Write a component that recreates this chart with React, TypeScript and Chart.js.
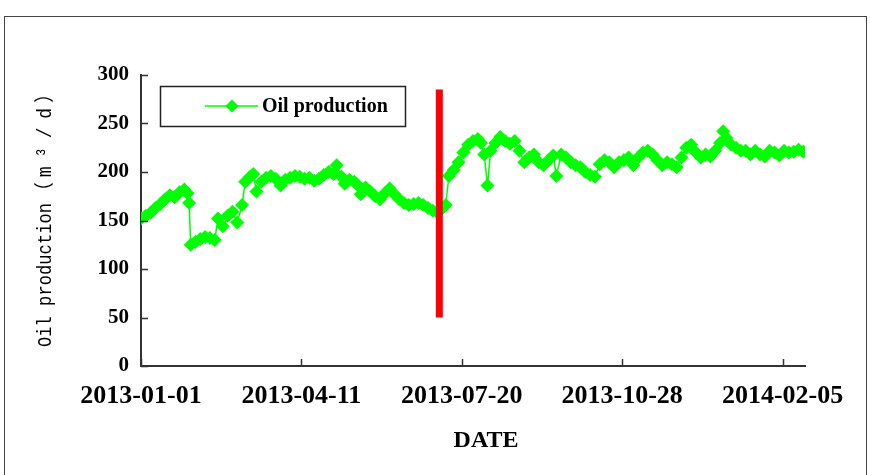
import React, { useEffect, useRef } from "react";
import { Chart, registerables } from "chart.js";

Chart.register(...registerables);

// ---- data ----
const startDate = Date.UTC(2013, 0, 1);
const xTickDays = [0, 100, 200, 300, 400];
const yTickValues = [0, 50, 100, 150, 200, 250, 300];

// day offsets from 2013-01-01
const dayOffsets = [
  0, 3, 6, 9, 12, 15, 18, 21, 24, 27, 29, 30, 31, 34, 37, 40, 43, 46, 48, 51,
  54, 57, 60, 63, 65, 68, 70, 72, 75, 78, 81, 84, 87, 90, 93, 96, 99, 102, 105, 108,
  111, 114, 117, 120, 122, 125, 127, 130, 133, 136, 137, 140, 143, 146, 149, 152, 155, 158, 161, 164,
  167, 170, 173, 176, 179, 182, 185, 188, 190, 192, 195, 198, 201, 204, 207, 210, 212, 214, 216, 218,
  221, 224, 227, 230, 233, 236, 239, 242, 245, 248, 251, 254, 257, 259, 262, 265, 268, 271, 274, 277,
  280, 283, 286, 289, 292, 295, 298, 301, 304, 307, 310, 313, 316, 319, 322, 325, 328, 331, 334, 337,
  340, 343, 346, 349, 352, 355, 358, 361, 363, 365, 368, 371, 374, 377, 380, 383, 386, 389, 392, 395,
  398, 401, 404, 407, 410, 413,
];

const oilProduction = [
  152, 155, 158, 163, 167, 172, 176, 174, 179, 182, 178, 168, 125, 128, 131, 133, 132, 130, 152, 144,
  155, 159, 148, 166, 190, 195, 198, 180, 190, 194, 196, 193, 186, 192, 194, 196, 195, 193, 194, 191,
  193, 197, 200, 198, 207, 195, 188, 192, 190, 185, 177, 184, 180, 175, 172, 178, 183, 177, 172, 168,
  166, 167, 168, 166, 163, 160, 158, 163, 166, 196, 202, 210, 220, 228, 232, 234, 230, 218, 186, 222,
  230, 236, 232, 229, 232, 222, 210, 215, 218, 210, 207, 212, 217, 196, 218, 215, 210, 207, 205, 200,
  197, 195, 208, 212, 210, 205, 210, 212, 215, 207, 215, 220, 222, 218, 212, 207, 210, 208, 205, 215,
  225, 228, 220, 215, 218, 216, 222, 230, 242, 235, 228, 225, 222, 222, 218, 222, 218, 216, 222, 220,
  217, 222, 220, 221, 223, 221,
];

// red vertical marker line
const markerDays = [186, 186];
const markerValues = [50, 285];

const seriesLabel = "Oil production";
const xTitle = "DATE";
const yTitleMain = "Oil production";
const yTitleUnit = ["\uFF08", "m", "\u00B3", "/", "d", "\uFF09"];

function dayLabel(d: number): string {
  const dt = new Date(startDate + d * 86400000);
  return dt.toISOString().slice(0, 10);
}

const GREEN = "#00ff00";
const SERIF = "'Liberation Serif', 'Times New Roman', serif";
const MONO = "'Liberation Mono', 'DejaVu Sans Mono', 'Noto Sans CJK SC', monospace";

const framePlugin = {
  id: "frame",
  beforeDraw(chart: any) {
    const { ctx, width, height } = chart;
    ctx.save();
    ctx.fillStyle = "#ffffff";
    ctx.fillRect(0, 0, width, height);
    ctx.strokeStyle = "#444";
    ctx.lineWidth = 1;
    ctx.strokeRect(4.5, 16.5, 862, height + 10);
    ctx.restore();
  },
};

const titlesPlugin = {
  id: "titles",
  afterDraw(chart: any) {
    const { ctx } = chart;
    // y title (rotated, SimSun-like narrow monospace)
    ctx.save();
    ctx.translate(46, 347);
    ctx.rotate(-Math.PI / 2);
    ctx.fillStyle = "#000";
    ctx.textBaseline = "middle";
    ctx.font = `20px ${MONO}`;
    let pos = 0;
    for (const ch of yTitleMain) {
      ctx.save();
      ctx.translate(pos + 5, 0);
      ctx.scale(0.85, 1);
      ctx.textAlign = "center";
      ctx.fillText(ch, 0, 0);
      ctx.restore();
      pos += 10.3;
    }
    pos += 2;
    yTitleUnit.forEach((ch) => {
      ctx.save();
      ctx.translate(pos + 9.5, 0);
      ctx.scale(0.9, 1);
      ctx.textAlign = "center";
      ctx.fillText(ch, 0, 0);
      ctx.restore();
      pos += 19.5;
    });
    ctx.restore();

    // x title
    ctx.save();
    ctx.fillStyle = "#000";
    ctx.font = `bold 24px ${SERIF}`;
    ctx.textAlign = "center";
    ctx.textBaseline = "middle";
    ctx.fillText(xTitle, 486, 441);
    ctx.restore();
  },
};

const insideTicksPlugin = {
  id: "insideTicks",
  afterDraw(chart: any) {
    const { ctx, chartArea } = chart;
    const xs = chart.scales.x;
    const ys = chart.scales.y;
    ctx.save();
    ctx.strokeStyle = "#333";
    ctx.lineWidth = 1.5;
    ctx.beginPath();
    xTickDays.forEach((d) => {
      const px = Math.round(xs.getPixelForValue(d)) + 0.5;
      ctx.moveTo(px, chartArea.bottom);
      ctx.lineTo(px, chartArea.bottom - 7);
    });
    yTickValues.forEach((v) => {
      const py = Math.round(ys.getPixelForValue(v)) + 0.5;
      ctx.moveTo(chartArea.left, py);
      ctx.lineTo(chartArea.left + 7, py);
    });
    ctx.stroke();
    ctx.restore();
  },
};

const legendBoxPlugin = {
  id: "legendBox",
  afterDraw(chart: any) {
    const { ctx } = chart;
    ctx.save();
    ctx.strokeStyle = "#222";
    ctx.lineWidth = 1.5;
    ctx.strokeRect(160.5, 86.5, 245, 40);
    const cy = 106;
    ctx.strokeStyle = GREEN;
    ctx.lineWidth = 1.5;
    ctx.beginPath();
    ctx.moveTo(205, cy);
    ctx.lineTo(258, cy);
    ctx.stroke();
    ctx.fillStyle = GREEN;
    ctx.beginPath();
    const r = 6.5;
    ctx.moveTo(232, cy - r);
    ctx.lineTo(232 + r, cy);
    ctx.lineTo(232, cy + r);
    ctx.lineTo(232 - r, cy);
    ctx.closePath();
    ctx.fill();
    ctx.fillStyle = "#000";
    ctx.font = `bold 20px ${SERIF}`;
    ctx.textBaseline = "middle";
    ctx.textAlign = "left";
    ctx.fillText(seriesLabel, 262, cy + 1);
    ctx.restore();
  },
};

export default function App() {
  const ref = useRef<HTMLCanvasElement | null>(null);

  useEffect(() => {
    if (!ref.current) return;
    const chart = new Chart(ref.current, {
      type: "line",
      data: {
        datasets: [
          {
            label: "marker",
            data: markerDays.map((d, i) => ({ x: d, y: markerValues[i] })),
            borderColor: "#ff0000",
            backgroundColor: "#ff0000",
            borderWidth: 7,
            pointRadius: 0,
          },
          {
            label: seriesLabel,
            data: dayOffsets.map((d, i) => ({ x: d, y: oilProduction[i] })),
            borderColor: GREEN,
            backgroundColor: GREEN,
            borderWidth: 1.5,
            pointStyle: "rectRot",
            pointRadius: 7,
            pointBorderWidth: 0,
            pointBackgroundColor: GREEN,
          },
        ],
      },
      options: {
        responsive: false,
        animation: false,
        layout: { padding: { left: 0, top: 75, right: 65, bottom: 0 } },
        plugins: {
          legend: { display: false },
          tooltip: { enabled: false },
        },
        scales: {
          x: {
            type: "linear",
            min: 0,
            max: 414,
            afterBuildTicks: (scale: any) => {
              scale.ticks = xTickDays.map((v) => ({ value: v }));
            },
            afterFit: (scale: any) => {
              scale.height = 109;
            },
            grid: { display: false, drawTicks: false },
            border: { display: true, color: "#333", width: 2 },
            ticks: {
              autoSkip: false,
              maxRotation: 0,
              padding: 15,
              color: "#000",
              font: { family: SERIF, size: 26, weight: "bold" },
              callback: (v: any) => dayLabel(Number(v)),
            },
            title: { display: false },
          },
          y: {
            min: 0,
            max: 300,
            afterBuildTicks: (scale: any) => {
              scale.ticks = yTickValues.map((v) => ({ value: v }));
            },
            afterFit: (scale: any) => {
              scale.width = 141;
            },
            grid: { display: false, drawTicks: false },
            border: { display: true, color: "#333", width: 2 },
            ticks: {
              padding: 12,
              color: "#000",
              font: { family: SERIF, size: 21, weight: "bold" },
            },
            title: { display: false },
          },
        },
      },
      plugins: [framePlugin, insideTicksPlugin, legendBoxPlugin, titlesPlugin],
    } as any);
    return () => chart.destroy();
  }, []);

  return (
    <div style={{ position: "absolute", left: 0, top: 0, width: 870, height: 475, background: "#fff" }}>
      <canvas ref={ref} width={870} height={475} style={{ display: "block" }} />
    </div>
  );
}
